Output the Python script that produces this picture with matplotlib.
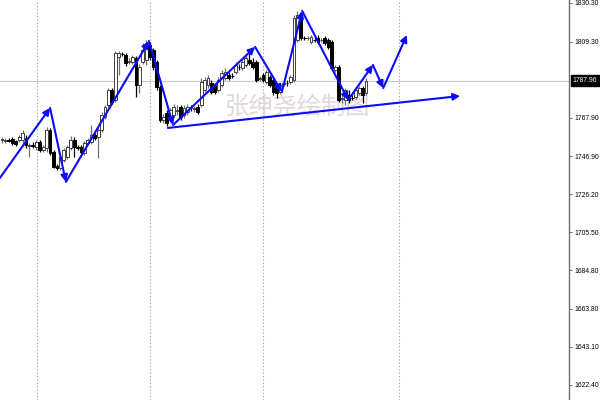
import matplotlib
matplotlib.use("Agg")
import matplotlib.pyplot as plt
import numpy as np

# ---------------- data ----------------
opens = [1755.7, 1755.2, 1755.7, 1756.3, 1755.2, 1755.7, 1755.7, 1756.8, 1752.5, 1753.0,
         1751.9, 1754.7, 1750.3, 1751.4, 1761.2, 1749.2, 1741.6, 1740.5, 1744.9, 1746.5,
         1751.4, 1755.7, 1751.9, 1751.9, 1748.7, 1754.1, 1754.7, 1758.5, 1757.4, 1761.2,
         1768.3, 1774.8, 1783.0, 1777.5, 1800.9, 1802.6, 1802.0, 1798.2, 1798.2, 1800.4,
         1785.7, 1798.2, 1799.3, 1807.4, 1804.7, 1798.2, 1784.6, 1766.6, 1770.4, 1767.7,
         1769.3, 1771.5, 1773.7, 1769.3, 1771.0, 1773.2, 1772.6, 1773.7, 1774.8, 1783.0,
         1785.7, 1786.8, 1785.7, 1783.0, 1785.7, 1789.5, 1791.1, 1790.6, 1792.7, 1795.5,
         1794.9, 1796.6, 1799.3, 1798.2, 1798.2, 1788.9, 1791.1, 1787.3, 1790.0, 1788.4,
         1784.0, 1781.9, 1786.2, 1786.8, 1787.3, 1788.4, 1810.2, 1823.8, 1811.3, 1811.2,
         1809.1, 1810.2, 1811.3, 1810.1, 1811.3, 1810.2, 1809.1, 1793.8, 1795.5, 1778.1,
         1777.5, 1780.2, 1778.6, 1779.1, 1781.3, 1784.0, 1781.3]
highs = [1757.4, 1756.8, 1756.8, 1757.4, 1755.7, 1758.5, 1761.2, 1758.5, 1754.1, 1754.7,
         1755.7, 1755.7, 1753.0, 1762.8, 1762.3, 1750.3, 1742.7, 1747.6, 1751.4, 1753.0,
         1757.9, 1757.4, 1753.0, 1753.0, 1755.2, 1756.8, 1763.9, 1759.5, 1762.8, 1771.0,
         1774.8, 1784.0, 1784.0, 1804.2, 1804.2, 1803.6, 1803.1, 1800.4, 1802.0, 1801.5,
         1797.1, 1808.5, 1810.2, 1809.1, 1805.8, 1799.3, 1785.7, 1769.9, 1772.1, 1773.2,
         1775.3, 1774.8, 1774.8, 1774.8, 1775.3, 1774.8, 1774.2, 1775.3, 1789.5, 1790.0,
         1791.1, 1788.4, 1786.8, 1790.0, 1793.8, 1794.9, 1792.7, 1792.2, 1798.2, 1797.1,
         1800.4, 1803.1, 1804.7, 1800.4, 1799.3, 1790.6, 1792.2, 1793.8, 1791.1, 1789.5,
         1785.1, 1786.8, 1788.4, 1788.4, 1791.1, 1823.8, 1825.9, 1825.4, 1812.3, 1812.3,
         1812.9, 1811.8, 1812.9, 1811.3, 1812.3, 1811.3, 1810.2, 1796.6, 1796.6, 1780.2,
         1784.0, 1783.0, 1780.2, 1784.0, 1785.1, 1785.1, 1789.5]
lows = [1754.1, 1754.1, 1754.7, 1753.0, 1752.5, 1754.7, 1753.0, 1751.4, 1746.5, 1751.4,
        1750.3, 1749.2, 1749.2, 1749.2, 1747.6, 1740.5, 1739.4, 1739.4, 1743.8, 1745.4,
        1750.3, 1746.5, 1750.3, 1748.1, 1747.6, 1753.0, 1753.6, 1755.7, 1745.9, 1760.1,
        1767.2, 1773.7, 1775.3, 1776.4, 1791.1, 1801.5, 1796.0, 1797.1, 1797.1, 1779.1,
        1781.3, 1797.1, 1796.6, 1799.3, 1793.8, 1783.0, 1765.5, 1765.0, 1763.4, 1766.6,
        1768.3, 1769.3, 1766.6, 1767.7, 1769.3, 1771.5, 1771.0, 1769.9, 1773.7, 1781.9,
        1784.0, 1780.8, 1780.8, 1781.9, 1784.6, 1788.4, 1788.4, 1789.5, 1791.7, 1793.8,
        1793.8, 1795.5, 1796.6, 1794.4, 1787.3, 1787.8, 1787.3, 1786.2, 1784.6, 1780.2,
        1778.6, 1780.8, 1785.1, 1785.1, 1786.2, 1787.3, 1809.1, 1810.2, 1810.2, 1810.2,
        1808.0, 1809.1, 1808.0, 1809.1, 1807.4, 1805.3, 1793.8, 1792.7, 1776.4, 1775.9,
        1774.8, 1775.9, 1777.5, 1778.1, 1780.2, 1775.9, 1780.2]
closes = [1756.3, 1755.7, 1755.2, 1754.1, 1753.6, 1757.4, 1759.5, 1753.0, 1753.0, 1752.5,
          1754.7, 1750.3, 1751.9, 1761.2, 1748.7, 1741.0, 1740.5, 1746.5, 1750.3, 1751.9,
          1755.7, 1751.9, 1751.4, 1749.2, 1754.1, 1755.7, 1758.5, 1756.8, 1761.2, 1769.3,
          1773.7, 1783.0, 1776.4, 1803.1, 1803.1, 1802.5, 1797.6, 1798.7, 1800.9, 1785.7,
          1795.5, 1804.7, 1807.4, 1800.9, 1795.5, 1784.6, 1766.6, 1768.3, 1765.0, 1772.1,
          1773.7, 1772.1, 1768.3, 1773.2, 1773.7, 1773.1, 1773.2, 1771.0, 1787.3, 1788.4,
          1789.5, 1781.9, 1781.9, 1788.4, 1792.2, 1792.7, 1789.5, 1790.5, 1796.6, 1795.4,
          1798.2, 1800.4, 1797.6, 1795.5, 1788.4, 1789.5, 1788.4, 1792.7, 1785.7, 1781.9,
          1781.3, 1785.7, 1786.8, 1786.7, 1790.0, 1822.1, 1823.8, 1811.3, 1811.2, 1811.3,
          1811.8, 1810.1, 1809.1, 1810.2, 1808.5, 1806.4, 1794.9, 1795.5, 1777.5, 1778.6,
          1783.0, 1777.5, 1778.5, 1783.0, 1784.0, 1780.2, 1787.96]

# hand-drawn zigzag arrows (bar index, price)
zigzag_x = [-0.6, 14.0, 18.6, 42.8, 49.8, 73.7, 81.5, 87.4, 100.8, 108.0, 111.0, 117.9]
zigzag_y = [1735.1, 1773.2, 1732.9, 1809.6, 1763.9, 1806.4, 1781.9, 1826.0, 1777.5, 1796.6, 1784.0, 1812.9]
# support trend line
trend_x = [48.3, 133.4]
trend_y = [1762.3, 1779.7]

# price scale
ytick_values = [1830.30, 1809.30, 1767.90, 1746.90, 1726.20, 1705.50, 1684.80, 1663.80, 1643.10, 1622.40]
current_price = 1787.96
separator_x = [10.2, 43.1, 76.0, 115.6]
watermark = "张绅尧绘制图"

# ---------------- drawing ----------------
plt.rcParams['font.family'] = ['DejaVu Sans']
fig = plt.figure(figsize=(6, 4), dpi=100)
ax = fig.add_axes([0, 0, 569 / 600, 1])
ax.set_xlim(-0.58, 165.1)
ax.set_ylim(1614.23, 1831.93)

idx = np.arange(len(opens))
o = np.array(opens); c = np.array(closes); h = np.array(highs); l = np.array(lows)
up = c >= o

# separators and current price line
for sx in separator_x:
    ax.axvline(sx, color='#9a9a9a', lw=0.8, ls=(0, (1, 2)), zorder=0)
ax.axhline(current_price, color='#c8c8c8', lw=0.8, zorder=0)

# watermark
ax.text(86.0, 1773.7, watermark, family=['Noto Sans CJK SC', 'DejaVu Sans'],
        fontsize=17.5, color='#e2d8d8', ha='center', va='center', zorder=1)

# candles
ax.vlines(idx[up], l[up], h[up], color='#707070', lw=0.9, zorder=2)
ax.vlines(idx[~up], l[~up], h[~up], color='#000000', lw=0.9, zorder=2)
body_h = np.maximum(np.abs(c - o), 0.12)
bottom = np.minimum(o, c)
ax.bar(idx[up], body_h[up], bottom=bottom[up], width=0.82, color='white',
       edgecolor='#404040', linewidth=0.7, zorder=3)
ax.bar(idx[~up], body_h[~up], bottom=bottom[~up], width=0.82, color='black',
       edgecolor='black', linewidth=0.7, zorder=3)

# zigzag arrows
blue = '#0a0aff'
for i in range(len(zigzag_x) - 1):
    ax.annotate('', xy=(zigzag_x[i + 1], zigzag_y[i + 1]), xytext=(zigzag_x[i], zigzag_y[i]),
                arrowprops=dict(arrowstyle='-|>', color=blue, lw=1.5, mutation_scale=10,
                                shrinkA=0, shrinkB=0), zorder=5)
ax.annotate('', xy=(trend_x[1], trend_y[1]), xytext=(trend_x[0], trend_y[0]),
            arrowprops=dict(arrowstyle='-|>', color=blue, lw=1.5, mutation_scale=10,
                            shrinkA=0, shrinkB=0), zorder=5)

# axes styling
for s in ['top', 'left', 'bottom']:
    ax.spines[s].set_visible(False)
ax.spines['right'].set_color('#707070')
ax.spines['right'].set_linewidth(1.0)
ax.set_xticks([])
ax.yaxis.tick_right()
ax.set_yticks(ytick_values)
ax.set_yticklabels([f"{v:.2f}" for v in ytick_values], family='Liberation Sans', fontsize=4.9)
ax.tick_params(axis='y', direction='out', length=2.5, width=0.7, color='#707070', pad=1.2)

ax.annotate(f"{current_price:.2f}", xy=(1.0, current_price), xycoords=('axes fraction', 'data'),
            xytext=(2.6, 0), textcoords='offset points', ha='left', va='center',
            family='Liberation Sans', fontsize=4.9, color='white',
            bbox=dict(boxstyle='square,pad=0.3', fc='black', ec='black'), annotation_clip=False)

fig.savefig('out.png', dpi=100)
